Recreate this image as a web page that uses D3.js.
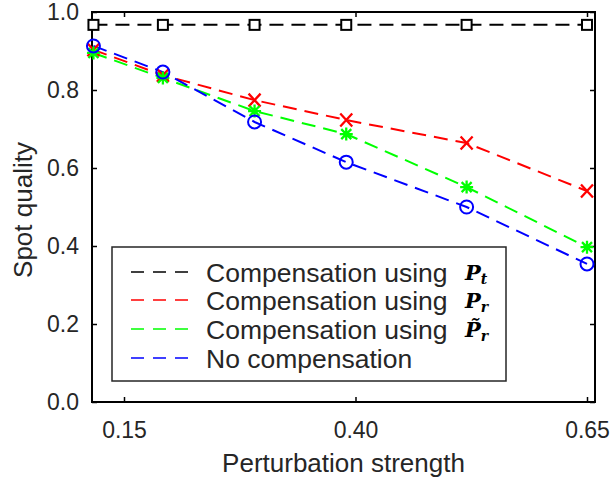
<!DOCTYPE html>
<html>
<head>
<meta charset="utf-8">
<script src="https://cdn.jsdelivr.net/npm/d3@7"></script>
<style>
  body { margin: 0; background: #fff; }
  text { font-family: "Liberation Sans", Arial, sans-serif; fill: #262626; }
</style>
</head>
<body>
<div id="chart"></div>
<script>
var width = 610,
    height = 482;

var plotLeft = 92, plotRight = 595, plotTop = 12, plotBottom = 402;

// perturbation strength at each measurement
var strengths = [0.117, 0.192, 0.291, 0.39, 0.52, 0.65];

// spot quality per series
var withPt = [0.967, 0.967, 0.967, 0.967, 0.967, 0.967];
var withPr = [0.903, 0.838, 0.774, 0.723, 0.664, 0.541];
var withPrTilde = [0.895, 0.831, 0.746, 0.687, 0.551, 0.397];
var noComp = [0.913, 0.846, 0.718, 0.615, 0.500, 0.354];

var xTicks = [0.15, 0.40, 0.65];
var yTicks = [0, 0.2, 0.4, 0.6, 0.8, 1.0];

var series = [
    { name: "Compensation using", sym: "P", sub: "t", values: withPt, color: "#000000", marker: "square" },
    { name: "Compensation using", sym: "P", sub: "r", values: withPr, color: "#ff0000", marker: "x" },
    { name: "Compensation using", sym: "P\u0303", sub: "r", values: withPrTilde, color: "#00ff00", marker: "star" },
    { name: "No compensation", sym: null, values: noComp, color: "#0000ff", marker: "circle" }
];

var x = d3.scaleLinear().domain([0.15 - 32 / 926, 0.65 + 8 / 926]).range([plotLeft, plotRight]);
var y = d3.scaleLinear().domain([0, 1]).range([plotBottom, plotTop]);

var svg = d3.select("#chart").append("svg")
    .attr("width", width)
    .attr("height", height);

// axes, ticks pointing inward
svg.append("g")
    .attr("transform", "translate(" + plotLeft + ",0)")
    .call(d3.axisLeft(y).tickValues(yTicks).tickFormat(d3.format(".1f")).tickSize(-5).tickPadding(13))
    .call(function(g) { g.select(".domain").remove(); g.selectAll("text").style("font-size", "23px"); });

svg.append("g")
    .attr("transform", "translate(" + plotRight + ",0)")
    .call(d3.axisRight(y).tickValues(yTicks).tickFormat("").tickSize(-5))
    .call(function(g) { g.select(".domain").remove(); });

svg.append("g")
    .attr("transform", "translate(0," + plotBottom + ")")
    .call(d3.axisBottom(x).tickValues(xTicks).tickFormat(d3.format(".2f")).tickSize(-5).tickPadding(20))
    .call(function(g) { g.select(".domain").remove(); g.selectAll("text").style("font-size", "23px"); });

svg.append("g")
    .attr("transform", "translate(0," + plotTop + ")")
    .call(d3.axisTop(x).tickValues(xTicks).tickFormat("").tickSize(-5))
    .call(function(g) { g.select(".domain").remove(); });

svg.selectAll(".tick line").attr("stroke", "#000").attr("stroke-width", 1.5);
svg.selectAll(".tick text").attr("font-family", null);

svg.append("rect")
    .attr("x", plotLeft)
    .attr("y", plotTop)
    .attr("width", plotRight - plotLeft)
    .attr("height", plotBottom - plotTop)
    .attr("fill", "none")
    .attr("stroke", "#000")
    .attr("stroke-width", 2);

// axis titles
svg.append("text")
    .attr("x", (plotLeft + plotRight) / 2)
    .attr("y", 472)
    .attr("text-anchor", "middle")
    .style("font-size", "26px")
    .text("Perturbation strength");

svg.append("text")
    .attr("transform", "translate(32,210) rotate(-90)")
    .attr("text-anchor", "middle")
    .style("font-size", "26px")
    .text("Spot quality");

// lines
var line = d3.line()
    .x(function(d, i) { return x(strengths[i]); })
    .y(function(d) { return y(d); });

series.forEach(function(s) {
    svg.append("path")
        .datum(s.values)
        .attr("d", line)
        .attr("fill", "none")
        .attr("stroke", s.color)
        .attr("stroke-width", 2)
        .attr("stroke-dasharray", "14,8");
});

// markers
function drawMarker(g, type, color) {
    if (type == "square") {
        g.append("rect").attr("x", -5).attr("y", -5).attr("width", 10).attr("height", 10)
            .attr("fill", "#fff").attr("stroke", color).attr("stroke-width", 2);
    } else if (type == "circle") {
        g.append("circle").attr("r", 6.5)
            .attr("fill", "none").attr("stroke", color).attr("stroke-width", 2);
    } else {
        var d = "M-6,-6.5L6,6.5M-6,6.5L6,-6.5";
        if (type == "star") d = "M-6.5,0L6.5,0M0,-6.5L0,6.5M-5,-5L5,5M-5,5L5,-5";
        g.append("path").attr("d", d).attr("stroke", color).attr("stroke-width", 2.3).attr("fill", "none");
    }
}

series.forEach(function(s) {
    s.values.forEach(function(v, i) {
        var g = svg.append("g")
            .attr("transform", "translate(" + x(strengths[i]) + "," + y(v) + ")");
        drawMarker(g, s.marker, s.color);
    });
});

// legend
var legend = svg.append("g");
legend.append("rect")
    .attr("x", 112)
    .attr("y", 247)
    .attr("width", 394)
    .attr("height", 134)
    .attr("fill", "#fff")
    .attr("stroke", "#262626")
    .attr("stroke-width", 1.5);

var rowY = [272, 300, 329, 358];

series.forEach(function(s, i) {
    legend.append("line")
        .attr("x1", 131).attr("x2", 188)
        .attr("y1", rowY[i]).attr("y2", rowY[i])
        .attr("stroke", s.color)
        .attr("stroke-width", 1.5)
        .attr("stroke-dasharray", "13,9");

    legend.append("text")
        .attr("x", 206)
        .attr("y", rowY[i])
        .attr("dy", "0.36em")
        .style("font-size", "26.5px")
        .text(s.name);

    if (s.sym) {
        var m = legend.append("text")
            .attr("x", 465)
            .attr("y", rowY[i])
            .attr("dy", "0.36em")
            .style("font-family", "'DejaVu Serif', serif")
            .style("font-style", "italic")
            .style("font-weight", "bold")
            .style("font-size", "21px")
            .style("fill", "#000");
        m.append("tspan").text(s.sym);
        m.append("tspan").attr("dy", "4").style("font-size", "14px").text(s.sub);
    }
});
</script>
</body>
</html>
